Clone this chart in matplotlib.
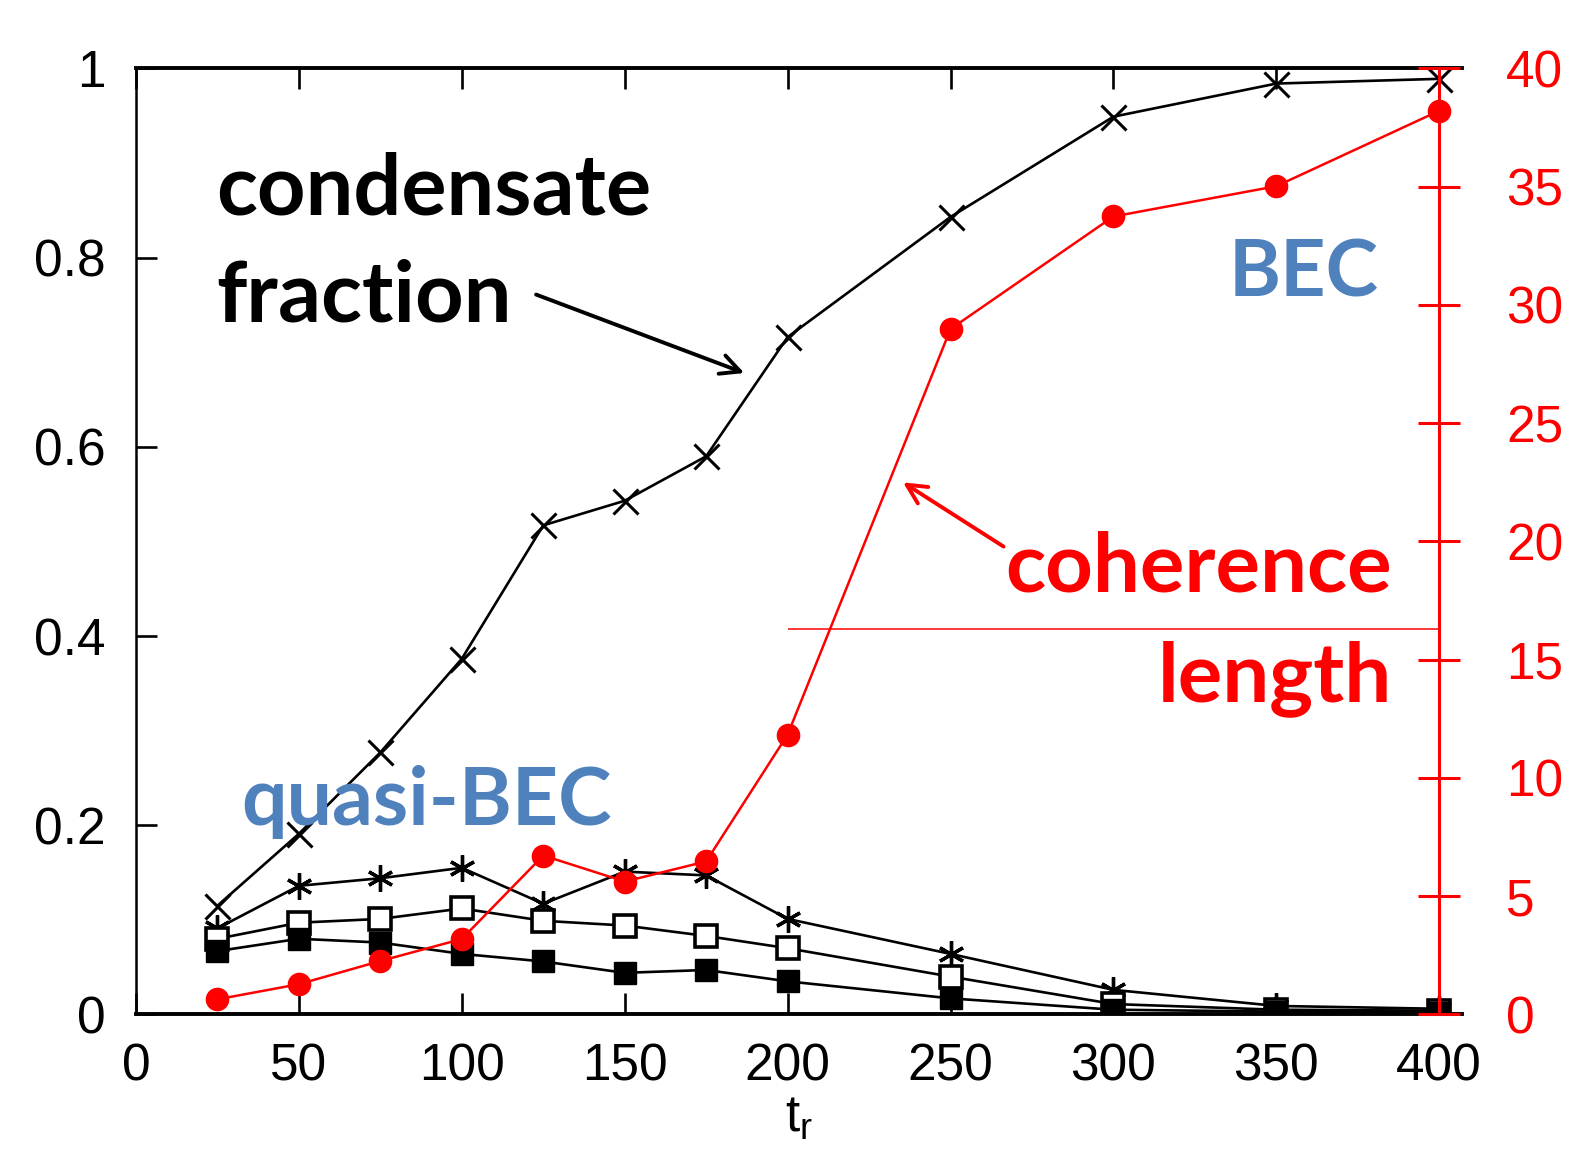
import matplotlib
matplotlib.use("Agg")
import matplotlib.pyplot as plt

# ramp time t_r
t_r = [25, 50, 75, 100, 125, 150, 175, 200, 250, 300, 350, 400]

# left axis (fraction)
cond_frac = [0.115, 0.191, 0.277, 0.376, 0.517, 0.543, 0.590, 0.716, 0.843, 0.949, 0.984, 0.989]
star_frac = [0.091, 0.136, 0.144, 0.155, 0.117, 0.151, 0.147, 0.101, 0.064, 0.026, 0.009, 0.006]
open_sq = [0.080, 0.097, 0.101, 0.112, 0.099, 0.094, 0.083, 0.070, 0.040, 0.011, 0.005, 0.004]
fill_sq = [0.067, 0.080, 0.076, 0.064, 0.056, 0.044, 0.047, 0.035, 0.017, 0.005, 0.003, 0.002]

# right axis (coherence length)
coh_len = [0.64, 1.28, 2.26, 3.19, 6.72, 5.62, 6.47, 11.83, 28.98, 33.74, 35.02, 38.21]

x_ticks = [0, 50, 100, 150, 200, 250, 300, 350, 400]
y_ticks = [0, 0.2, 0.4, 0.6, 0.8, 1]
y_tick_labels = ["0", "0.2", "0.4", "0.6", "0.8", "1"]
r_ticks = [0, 5, 10, 15, 20, 25, 30, 35, 40]

guide_level = 16.3  # thin red horizontal line, right axis units

RED = "#ff0000"
BLUE = "#4f81bd"
TICKFONT = "Liberation Sans"
NOTEFONT = "Lato"

fig = plt.figure(figsize=(15.78, 11.52), dpi=100)
ax = fig.add_axes([0.0862, 0.1194, 0.9265 - 0.0862, 0.9406 - 0.1194])
ax2 = ax.twinx()

ax.set_xlim(0, 407)
ax.set_ylim(0, 1)
ax2.set_ylim(0, 40)

# black series
ax.plot(t_r, cond_frac, color="black", lw=1.9, marker="x", ms=18, mew=2.2, zorder=3)
ax.plot(t_r, star_frac, color="black", lw=1.9, marker=(6, 2, 0), ms=19, mew=2.4, zorder=3)
ax.plot(t_r, open_sq, color="black", lw=1.9, marker="s", ms=16, mfc="white", mew=2.6, zorder=3)
ax.plot(t_r, fill_sq, color="black", lw=1.9, marker="s", ms=16, mfc="black", mew=1, zorder=3)

# red series
ax2.plot(t_r, coh_len, color=RED, lw=1.8, marker="o", ms=16, zorder=4)
ax2.hlines(guide_level, 200, 400, color=RED, lw=1.1)

# frame: black top/bottom/left, red right axis at t=400
for s in ("top", "bottom"):
    ax.spines[s].set_linewidth(2.8)
ax.spines["left"].set_linewidth(1.8)
ax.spines["right"].set_visible(False)
for s in ("top", "bottom", "left"):
    ax2.spines[s].set_visible(False)
ax2.spines["right"].set_position(("data", 400))
ax2.spines["right"].set_color(RED)
ax2.spines["right"].set_linewidth(2.2)

ax.set_xticks(x_ticks)
ax.set_xticklabels([str(v) for v in x_ticks])
ax.set_yticks(y_ticks)
ax.set_yticklabels(y_tick_labels)
ax.tick_params(axis="x", direction="in", length=15, width=1.9, top=True,
               labelsize=37, pad=20)
ax.tick_params(axis="y", direction="in", length=15, width=1.9, right=False,
               labelsize=37, pad=22)
for lab in ax.get_xticklabels() + ax.get_yticklabels():
    lab.set_fontfamily(TICKFONT)

ax2.set_yticks(r_ticks)
ax2.set_yticklabels([str(v) for v in r_ticks])
ax2.tick_params(axis="y", direction="inout", length=30, width=2.2, color=RED,
                labelcolor=RED, labelsize=37, pad=33)
for lab in ax2.get_yticklabels():
    lab.set_fontfamily(TICKFONT)

ax.set_xlabel("t$_\\mathregular{r}$", fontsize=37, family=TICKFONT, labelpad=2)

# annotations
ax.text(24.7, 0.846, "condensate", fontsize=61, fontweight="bold",
        family=NOTEFONT, color="black", va="baseline", ha="left")
ax.text(24.7, 0.732, "fraction", fontsize=61, fontweight="bold",
        family=NOTEFONT, color="black", va="baseline", ha="left")
ax.annotate("", xy=(187.5, 0.677), xytext=(122, 0.762),
            arrowprops=dict(arrowstyle="->", color="black", lw=2.8,
                            mutation_scale=35))
ax.text(381.5, 0.759, "BEC", fontsize=57, fontweight="bold",
        family=NOTEFONT, color=BLUE, va="baseline", ha="right")
ax.text(32.4, 0.2, "quasi-BEC", fontsize=58, fontweight="bold",
        family=NOTEFONT, color=BLUE, va="baseline", ha="left")
ax.text(385.5, 0.447, "coherence", fontsize=60, fontweight="bold",
        family=NOTEFONT, color=RED, va="baseline", ha="right")
ax.text(385.5, 0.331, "length", fontsize=60, fontweight="bold",
        family=NOTEFONT, color=RED, va="baseline", ha="right")
ax.annotate("", xy=(234.7, 0.564), xytext=(267, 0.493),
            arrowprops=dict(arrowstyle="->", color=RED, lw=2.8,
                            mutation_scale=35))

fig.savefig("out.png", dpi=100)
